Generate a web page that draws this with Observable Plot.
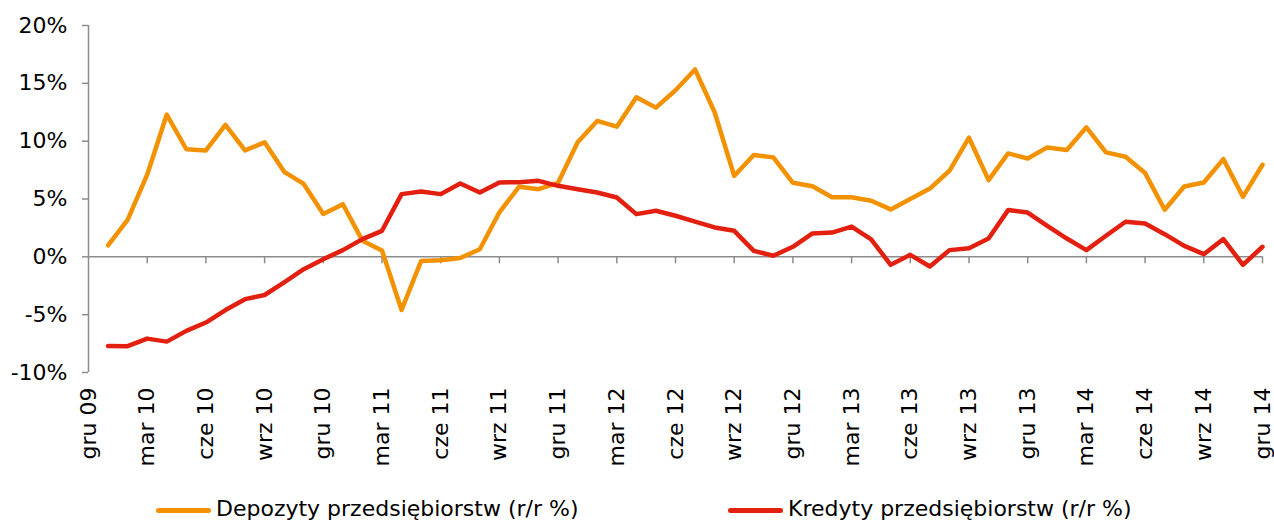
<!DOCTYPE html>
<html>
<head>
<meta charset="utf-8">
<script src="https://cdn.jsdelivr.net/npm/d3@7"></script>
<script src="https://cdn.jsdelivr.net/npm/@observablehq/plot@0.6"></script>
<style>
  html, body { margin: 0; padding: 0; background: #fff; }
  #wrap { position: relative; width: 1274px; height: 521px; overflow: hidden; font-family: "DejaVu Sans", Verdana, sans-serif; }
  #chart { position: absolute; left: 0; top: 0; }
  .leg { position: absolute; top: 496px; font-size: 22px; line-height: 26px; color: #000; white-space: nowrap; }
  .sw { display: inline-block; width: 55px; height: 5px; border-radius: 3px; vertical-align: middle; margin-right: 5px; }
</style>
</head>
<body>
<div id="wrap">
  <div id="chart"></div>
  <div class="leg" style="left:156px"><span class="sw" style="background:#F39200"></span>Depozyty przedsiębiorstw (r/r %)</div>
  <div class="leg" style="left:728px"><span class="sw" style="background:#E3200F"></span>Kredyty przedsiębiorstw (r/r %)</div>
</div>
<script>
const months = [
  "gru 09",
  "sty 10","lut 10","mar 10","kwi 10","maj 10","cze 10","lip 10","sie 10","wrz 10","paź 10","lis 10","gru 10",
  "sty 11","lut 11","mar 11","kwi 11","maj 11","cze 11","lip 11","sie 11","wrz 11","paź 11","lis 11","gru 11",
  "sty 12","lut 12","mar 12","kwi 12","maj 12","cze 12","lip 12","sie 12","wrz 12","paź 12","lis 12","gru 12",
  "sty 13","lut 13","mar 13","kwi 13","maj 13","cze 13","lip 13","sie 13","wrz 13","paź 13","lis 13","gru 13",
  "sty 14","lut 14","mar 14","kwi 14","maj 14","cze 14","lip 14","sie 14","wrz 14","paź 14","lis 14","gru 14"
];
const depozyty = [
  null,
  1.0, 3.2, 7.1, 12.3, 9.3, 9.2, 11.4, 9.2, 9.9, 7.35, 6.3, 3.7,
  4.55, 1.4, 0.55, -4.6, -0.35, -0.3, -0.1, 0.65, 3.85, 6.05, 5.85, 6.4,
  9.9, 11.75, 11.25, 13.8, 12.9, 14.4, 16.2, 12.5, 7.0, 8.8, 8.6, 6.4,
  6.1, 5.15, 5.15, 4.85, 4.1, 4.99, 5.9, 7.44, 10.3, 6.63, 8.94, 8.5,
  9.46, 9.23, 11.2, 9.03, 8.65, 7.24, 4.07, 6.08, 6.43, 8.45, 5.19, 7.96
];
const kredyty = [
  null,
  -7.7, -7.72, -7.07, -7.33, -6.4, -5.68, -4.6, -3.66, -3.3, -2.2, -1.07, -0.2,
  0.58, 1.53, 2.25, 5.42, 5.65, 5.42, 6.34, 5.56, 6.43, 6.45, 6.57, 6.14,
  5.85, 5.56, 5.13, 3.69, 3.98, 3.55, 3.05, 2.54, 2.25, 0.52, 0.09, 0.87,
  2.02, 2.1, 2.62, 1.5, -0.69, 0.17, -0.84, 0.58, 0.75, 1.58, 4.04, 3.83,
  2.68, 1.58, 0.58, 1.82, 3.03, 2.88, 1.96, 0.95, 0.23, 1.53, -0.69, 0.87
];
const xTickLabels = ["gru 09","mar 10","cze 10","wrz 10","gru 10","mar 11","cze 11","wrz 11","gru 11","mar 12","cze 12","wrz 12","gru 12","mar 13","cze 13","wrz 13","gru 13","mar 14","cze 14","wrz 14","gru 14"];
const yTicks = [-10, -5, 0, 5, 10, 15, 20];

const rows = months.map((m, i) => ({month: m, dep: depozyty[i], kre: kredyty[i]}));
const gray = "#8c8c8c";

const chart = Plot.plot({
  width: 1274,
  height: 480,
  marginTop: 25,
  marginBottom: 108,
  marginLeft: 88,
  marginRight: 12,
  style: {fontFamily: "'DejaVu Sans', Verdana, sans-serif", background: "white"},
  x: {type: "point", domain: months, padding: 0},
  y: {domain: [-10, 20]},
  marks: [
    Plot.ruleY([0], {stroke: gray, strokeWidth: 1.5}),
    Plot.ruleX(xTickLabels.slice(1), {x: d => d, y1: 0, y2: 0, insetBottom: -7, stroke: gray, strokeWidth: 1.5}),
    Plot.ruleX([months[0]], {y1: -10, y2: 20, stroke: gray, strokeWidth: 1.5}),
    Plot.axisY({ticks: yTicks, tickSize: 6, tickPadding: 15, tickFormat: d => d + "%", fontSize: 22, stroke: gray, strokeWidth: 1.5, fill: "black", label: null}),
    Plot.axisX({ticks: xTickLabels, tickSize: 0, tickPadding: 15, tickRotate: -90, fontSize: 22, fill: "black", label: null}),
    Plot.line(rows, {x: "month", y: "dep", stroke: "#F39200", strokeWidth: 4.5, strokeLinejoin: "round", strokeLinecap: "round"}),
    Plot.line(rows, {x: "month", y: "kre", stroke: "#E3200F", strokeWidth: 4.5, strokeLinejoin: "round", strokeLinecap: "round"})
  ]
});
document.getElementById("chart").appendChild(chart);
</script>
</body>
</html>
